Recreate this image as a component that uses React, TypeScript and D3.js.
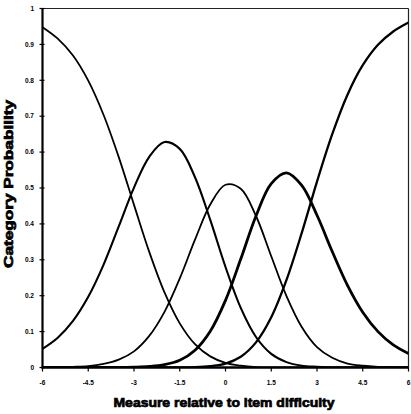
import React from 'react';
import * as d3 from 'd3';

// measure values (logits relative to item difficulty)
const measures = [
  -6, -5.5, -5, -4.5, -4, -3.5, -3, -2.5, -2, -1.5, -1, -0.5, 0,
  0.5, 1, 1.5, 2, 2.5, 3, 3.5, 4, 4.5, 5, 5.5, 6,
];

// category probability curves
const cat0 = [
  0.948, 0.916, 0.869, 0.799, 0.704, 0.586, 0.453, 0.322, 0.209, 0.123, 0.065, 0.031, 0.013,
  0.005, 0.001, 0.0, 0.0, 0.0, 0.0, 0.0, 0.0, 0.0, 0.0, 0.0, 0.0,
];
const cat1 = [
  0.052, 0.083, 0.13, 0.197, 0.286, 0.393, 0.501, 0.587, 0.628, 0.609, 0.53, 0.411, 0.28,
  0.166, 0.085, 0.038, 0.015, 0.005, 0.002, 0.0, 0.0, 0.0, 0.0, 0.0, 0.0,
];
const cat2 = [
  0.0, 0.001, 0.002, 0.004, 0.01, 0.022, 0.045, 0.088, 0.155, 0.248, 0.356, 0.454, 0.509,
  0.498, 0.422, 0.31, 0.199, 0.113, 0.057, 0.027, 0.011, 0.005, 0.002, 0.001, 0.0,
];
const cat3 = [
  0.0, 0.0, 0.0, 0.0, 0.0, 0.0, 0.001, 0.003, 0.008, 0.02, 0.048, 0.101, 0.187,
  0.302, 0.422, 0.512, 0.542, 0.507, 0.424, 0.323, 0.229, 0.154, 0.1, 0.063, 0.039,
];
const cat4 = [
  0.0, 0.0, 0.0, 0.0, 0.0, 0.0, 0.0, 0.0, 0.0, 0.0, 0.001, 0.004, 0.011,
  0.03, 0.07, 0.14, 0.244, 0.375, 0.518, 0.65, 0.76, 0.842, 0.899, 0.936, 0.961,
];

const xTicks = [-6, -4.5, -3, -1.5, 0, 1.5, 3, 4.5, 6];
const xTickLabels = ['-6', '-4.5', '-3', '-1.5', '0', '1.5', '3', '4.5', '6'];
const yTicks = [0, 0.1, 0.2, 0.3, 0.4, 0.5, 0.6, 0.7, 0.8, 0.9, 1];
const yTickLabels = ['0', '0.1', '0.2', '0.3', '0.4', '0.5', '0.6', '0.7', '0.8', '0.9', '1'];

const series = [cat0, cat1, cat2, cat3, cat4];
const strokeWidths = [1.8, 2.1, 1.8, 2.8, 2.3];

const App = () => {
  const width = 411;
  const height = 414;
  const left = 42.5;
  const right = 408.5;
  const top = 8.5;
  const bottom = 367.5;

  const x = d3.scaleLinear().domain([-6, 6]).range([left, right]);
  const y = d3.scaleLinear().domain([0, 1]).range([bottom, top]);

  const line = d3
    .line<number>()
    .x((_, i) => x(measures[i]))
    .y((d) => y(d))
    .curve(d3.curveCatmullRom.alpha(0.5));

  const font = '"Liberation Sans", Arial, sans-serif';

  return (
    <svg
      width={width}
      height={height}
      style={{ position: 'absolute', left: 0, top: 0, background: '#fff' }}
    >
      {/* frame: thin top and right edges */}
      <line x1={left} x2={right} y1={top} y2={top} stroke="#222" strokeWidth={1.2} />
      <line x1={right} x2={right} y1={top} y2={bottom} stroke="#222" strokeWidth={1.2} />

      {/* curves */}
      <g clipPath="url(#plot)">
        {series.map((s, i) => (
          <path
            key={i}
            d={line(s) || ''}
            fill="none"
            stroke="#000"
            strokeWidth={strokeWidths[i]}
            strokeLinejoin="round"
          />
        ))}
      </g>
      <defs>
        <clipPath id="plot">
          <rect x={left} y={top} width={right - left} height={bottom - top} />
        </clipPath>
      </defs>

      {/* y axis */}
      <line x1={left} x2={left} y1={top} y2={bottom + 1} stroke="#000" strokeWidth={2.2} />
      {yTicks.map((t, i) => (
        <g key={t}>
          <line x1={left - 3} x2={left + 2} y1={y(t)} y2={y(t)} stroke="#000" strokeWidth={1.2} />
          <text
            x={34}
            y={y(t)}
            dy="0.35em"
            textAnchor="end"
            fontFamily={font}
            fontWeight="bold"
            fontSize={6.5}
          >
            {yTickLabels[i]}
          </text>
        </g>
      ))}

      {/* x axis */}
      <line x1={left - 1} x2={right} y1={bottom} y2={bottom} stroke="#000" strokeWidth={2.6} />
      {xTicks.map((t, i) => (
        <g key={t}>
          <line x1={x(t)} x2={x(t)} y1={bottom} y2={bottom + 4} stroke="#000" strokeWidth={1.2} />
          <text
            x={x(t)}
            y={385}
            textAnchor="middle"
            fontFamily={font}
            fontWeight="bold"
            fontSize={6.5}
          >
            {xTickLabels[i]}
          </text>
        </g>
      ))}

      {/* axis titles */}
      <text
        x={224}
        y={407}
        textAnchor="middle"
        fontFamily={font}
        fontWeight="900"
        fontSize={12.5}
        textLength={221}
        lengthAdjust="spacingAndGlyphs"
        stroke="#000"
        strokeWidth={0.7}
      >
        Measure relative to item difficulty
      </text>
      <text
        transform="translate(12.5,184) rotate(-90)"
        textAnchor="middle"
        fontFamily={font}
        fontWeight="900"
        fontSize={12.5}
        textLength={168}
        lengthAdjust="spacingAndGlyphs"
        stroke="#000"
        strokeWidth={0.7}
      >
        Category Probability
      </text>
    </svg>
  );
};

export default App;
